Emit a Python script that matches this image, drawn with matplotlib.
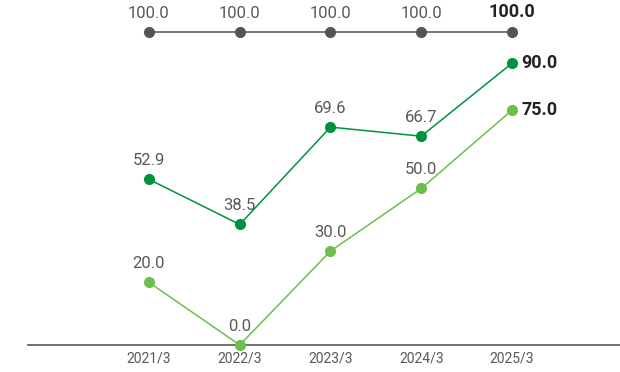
import numpy as np
import matplotlib.pyplot as plt

plt.rcParams['font.family'] = ['Roboto', 'DejaVu Sans']

years = ['2021/3', '2022/3', '2023/3', '2024/3', '2025/3']
target = [100.0, 100.0, 100.0, 100.0, 100.0]
dark_series = [52.9, 38.5, 69.6, 66.7, 90.0]
light_series = [20.0, 0.0, 30.0, 50.0, 75.0]

grey = '#555555'
dark_green = '#00913F'
light_green = '#6DBE4B'
text_color = '#595959'

fig = plt.figure(figsize=(6.2, 3.72), dpi=100)
ax = fig.add_axes([28 / 620, 27 / 372, 592 / 620, 345 / 372])

x = np.arange(len(years))
for values, color in [(target, grey), (dark_series, dark_green), (light_series, light_green)]:
    ax.plot(x, values, color=color, lw=1.1, marker='o', ms=7, clip_on=False, zorder=3)
    last = len(values) - 1
    for i, v in enumerate(values):
        if i == last and values is not target:
            # final value sits to the right of the point, in bold
            ax.annotate(f'{v:.1f}', (x[i], v), xytext=(7, 0), textcoords='offset points',
                        ha='left', va='center', fontsize=13, fontweight='bold', color='#222222')
        elif i == last:
            ax.annotate(f'{v:.1f}', (x[i], v), xytext=(0, 8), textcoords='offset points',
                        ha='center', va='bottom', fontsize=13, fontweight='bold', color='#222222')
        else:
            ax.annotate(f'{v:.1f}', (x[i], v), xytext=(0, 8), textcoords='offset points',
                        ha='center', va='bottom', fontsize=12, color=text_color)

ax.set_xlim(-1.333, 5.19)
ax.set_ylim(0, 110.2)
ax.set_xticks(x, years)
ax.tick_params(axis='x', length=0, pad=5, labelsize=10, labelcolor=text_color)
ax.set_yticks([])
for side in ['top', 'right', 'left']:
    ax.spines[side].set_visible(False)
ax.spines['bottom'].set_color('#666666')
ax.spines['bottom'].set_linewidth(1.3)

fig.savefig('out.png', dpi=100)
